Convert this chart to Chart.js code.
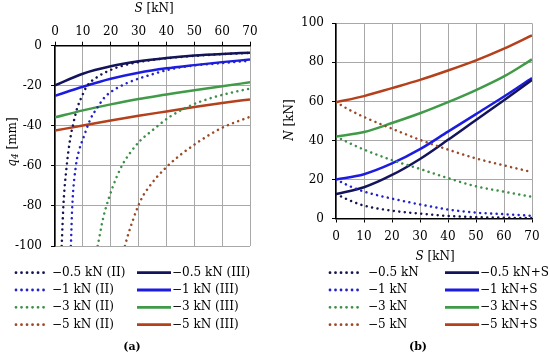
<!DOCTYPE html>
<html>
<head>
<meta charset="utf-8">
<script src="https://cdn.jsdelivr.net/npm/chart.js@4/dist/chart.umd.min.js"></script>
<style>
  html, body { margin: 0; padding: 0; background: #fff; }
  .wrap { display: flex; width: 550px; height: 354px; }
  .panel { position: relative; width: 275px; height: 354px; }
</style>
</head>
<body>
<div class="wrap">
  <div class="panel"><canvas id="grafica-a"></canvas></div>
  <div class="panel"><canvas id="grafica-b"></canvas></div>
</div>
<script>
// ---- panel (a): q4 [mm] vs S [kN] ----
const sIII = [0, 10, 20, 30, 40, 50, 60, 70];
const qIII_05 = [-19.8, -14, -10.3, -7.8, -6.1, -4.9, -4.1, -3.5];
const qIII_1 = [-25, -20.5, -16.5, -13.5, -11.3, -9.7, -8.2, -6.9];
const qIII_3 = [-35.8, -32.3, -29.3, -26.6, -24.4, -22.2, -20.2, -18.3];
const qIII_5 = [-42.4, -39.8, -37.3, -35, -32.8, -30.6, -28.6, -26.8];

const sII_05 = [2.4, 3, 4.2, 5.4, 6.6, 8, 9.6, 11.4, 15, 19.7, 23.3, 30, 40, 50, 60, 70];
const qII_05 = [-100, -80, -60, -47, -38.7, -31, -25.5, -20.3, -15.8, -12.3, -10.4, -8.2, -6.3, -5.1, -4.2, -3.6];
const sII_1 = [5.7, 6.2, 7.5, 8.7, 10.2, 12.6, 15, 18, 22.1, 27, 34.1, 41.3, 48.5, 60, 70];
const qII_1 = [-100, -80, -60, -52, -46, -37, -31.3, -25.5, -21.3, -18, -14.6, -11.8, -10.1, -8.7, -7.5];
const sII_3 = [15.3, 17.3, 19.5, 22, 24.5, 27.5, 30.5, 34.1, 41.3, 48.5, 55.6, 62.8, 70];
const qII_3 = [-100, -86, -75.4, -66, -58.7, -52.5, -47.5, -43.2, -35.4, -30, -26.3, -23.6, -21.4];
const sII_5 = [25.1, 26, 27, 28, 29, 30, 31, 32, 33.5, 36, 40.1, 44.9, 49.1, 52, 59.2, 64, 70];
const qII_5 = [-100, -95.5, -91, -87, -83, -79.5, -76.5, -74, -71, -66.5, -60.5, -54.6, -50.3, -47.5, -41.5, -38.6, -35.5];

const etiquetasA = ["\u22120.5 kN (II)", "\u22121 kN (II)", "\u22123 kN (II)", "\u22125 kN (II)",
                    "\u22120.5 kN (III)", "\u22121 kN (III)", "\u22123 kN (III)", "\u22125 kN (III)"];

// ---- panel (b): N [kN] vs S [kN] ----
const sB = [0, 10, 20, 30, 40, 50, 60, 70];
const nS_05 = [12.5, 16, 22.3, 30.5, 40.3, 50.5, 60.6, 71];
const nS_1 = [20, 22.7, 28.2, 35.5, 44.5, 53.5, 62.5, 72];
const nS_3 = [42, 44.3, 48.9, 53.9, 59.6, 65.8, 72.8, 81.5];
const nS_5 = [59.6, 62.7, 66.8, 71, 75.8, 81, 87, 93.8];

const sBd = [0, 5, 10, 20, 30, 40, 50, 60, 70];
const n_05 = [12.5, 9.2, 6.6, 4.0, 2.5, 1.3, 0.7, 0.4, 0.2];
const n_1 = [20, 16.5, 13.8, 10.2, 7.2, 4.6, 3.0, 2.2, 1.4];
const n_3 = [42, 38.5, 35.3, 29.9, 25.4, 20.7, 16.5, 13.7, 11.1];
const n_5 = [59.6, 55.5, 52, 46, 40.3, 35.3, 30.8, 27.2, 23.8];

const etiquetasB = ["\u22120.5 kN", "\u22121 kN", "\u22123 kN", "\u22125 kN",
                    "\u22120.5 kN+S", "\u22121 kN+S", "\u22123 kN+S", "\u22125 kN+S"];

const colores = ["#14145c", "#1c1ce0", "#409a48", "#b5401c"];
const coloresPunteado = ["#141450", "#2222cc", "#3d8f47", "#9a4a28"];

const FUENTE = '"DejaVu Serif", serif';

function puntos(xs, ys) {
    return xs.map((x, i) => ({ x: x, y: ys[i] }));
}

function punteada(label, color, data) {
    return {
        label: label, data: data, borderColor: color, backgroundColor: color,
        borderWidth: 2.5, borderDash: [0.01, 5.5], borderCapStyle: "round",
        pointRadius: 0, cubicInterpolationMode: "monotone", fill: false
    };
}

function continua(label, color, data) {
    return {
        label: label, data: data, borderColor: color, backgroundColor: color,
        borderWidth: 2.5, pointRadius: 0, cubicInterpolationMode: "monotone", fill: false
    };
}

function dibujarPartes(ctx, partes, x, y, angulo) {
    ctx.save();
    ctx.translate(x, y);
    ctx.rotate(angulo);
    ctx.textBaseline = "middle";
    ctx.textAlign = "left";
    let total = 0;
    partes.forEach((p) => {
        ctx.font = (p.i ? "italic " : "") + (p.sub ? "9px " : "12px ") + FUENTE;
        p.w = ctx.measureText(p.t).width;
        total += p.w;
    });
    let cx = -total / 2;
    partes.forEach((p) => {
        ctx.font = (p.i ? "italic " : "") + (p.sub ? "9px " : "12px ") + FUENTE;
        ctx.fillText(p.t, cx, p.sub ? 3 : 0);
        cx += p.w;
    });
    ctx.restore();
}

const extras = {
    id: "extras",
    afterDraw(chart, args, opts) {
        const ctx = chart.ctx;
        ctx.save();
        chart.data.datasets.forEach((ds, i) => {
            const col = opts.cols[i < 4 ? 0 : 1];
            const y = opts.rows[i % 4];
            ctx.beginPath();
            ctx.strokeStyle = ds.borderColor;
            ctx.lineWidth = ds.borderWidth + 0.3;
            ctx.setLineDash(ds.borderDash || []);
            ctx.lineCap = ds.borderCapStyle || "butt";
            ctx.moveTo(col[0], y);
            ctx.lineTo(col[1], y);
            ctx.stroke();
            ctx.setLineDash([]);
            ctx.fillStyle = "#000";
            ctx.font = "12px " + FUENTE;
            ctx.textBaseline = "middle";
            ctx.textAlign = "left";
            ctx.fillText(ds.label, col[2], y);
        });
        ctx.fillStyle = "#000";
        dibujarPartes(ctx, opts.xTitle, opts.xTitlePos[0], opts.xTitlePos[1], 0);
        dibujarPartes(ctx, opts.yTitle, opts.yTitlePos[0], opts.yTitlePos[1], -Math.PI / 2);
        ctx.font = "bold 11px " + FUENTE;
        ctx.textAlign = "center";
        ctx.textBaseline = "middle";
        ctx.fillText(opts.caption, opts.captionPos[0], opts.captionPos[1]);
        ctx.restore();
    }
};

function escala(pos, min, max, paso, tamano, extra) {
    const eje = {
        type: "linear", position: pos, min: min, max: max,
        ticks: { stepSize: paso, color: "#000", font: { family: FUENTE, size: 12 }, padding: extra.padding },
        grid: { color: "#a8a8a8", lineWidth: 1, tickLength: 4, tickColor: "#000", tickWidth: 1 },
        border: { color: "#000", width: 1.5 },
        afterFit(scale) {
            if (pos === "left") { scale.width = tamano; } else { scale.height = tamano; }
        }
    };
    return eje;
}

new Chart(document.getElementById("grafica-a"), {
    type: "line",
    data: {
        datasets: [
            punteada(etiquetasA[0], coloresPunteado[0], puntos(sII_05, qII_05)),
            punteada(etiquetasA[1], coloresPunteado[1], puntos(sII_1, qII_1)),
            punteada(etiquetasA[2], coloresPunteado[2], puntos(sII_3, qII_3)),
            punteada(etiquetasA[3], coloresPunteado[3], puntos(sII_5, qII_5)),
            continua(etiquetasA[4], colores[0], puntos(sIII, qIII_05)),
            continua(etiquetasA[5], colores[1], puntos(sIII, qIII_1)),
            continua(etiquetasA[6], colores[2], puntos(sIII, qIII_3)),
            continua(etiquetasA[7], colores[3], puntos(sIII, qIII_5))
        ]
    },
    options: {
        animation: false,
        responsive: true,
        maintainAspectRatio: false,
        layout: { padding: { left: 0, top: 0, right: 25, bottom: 108 } },
        scales: {
            x: escala("top", 0, 70, 10, 45.7, { padding: 3 }),
            y: escala("left", -100, 0, 20, 55, { padding: 9 })
        },
        plugins: {
            legend: { display: false },
            tooltip: { enabled: false },
            extras: {
                rows: [272.7, 290, 307.3, 324.7],
                cols: [[16, 47, 52], [137, 171, 172]],
                xTitle: [{ t: "S", i: true }, { t: " [kN]" }],
                xTitlePos: [154, 9],
                yTitle: [{ t: "q", i: true }, { t: "4", i: true, sub: true }, { t: " [mm]" }],
                yTitlePos: [13, 142],
                caption: "(a)",
                captionPos: [132, 347]
            }
        }
    },
    plugins: [extras]
});

new Chart(document.getElementById("grafica-b"), {
    type: "line",
    data: {
        datasets: [
            punteada(etiquetasB[0], coloresPunteado[0], puntos(sBd, n_05)),
            punteada(etiquetasB[1], coloresPunteado[1], puntos(sBd, n_1)),
            punteada(etiquetasB[2], coloresPunteado[2], puntos(sBd, n_3)),
            punteada(etiquetasB[3], coloresPunteado[3], puntos(sBd, n_5)),
            continua(etiquetasB[4], colores[0], puntos(sB, nS_05)),
            continua(etiquetasB[5], colores[1], puntos(sB, nS_1)),
            continua(etiquetasB[6], colores[2], puntos(sB, nS_3)),
            continua(etiquetasB[7], colores[3], puntos(sB, nS_5))
        ]
    },
    options: {
        animation: false,
        responsive: true,
        maintainAspectRatio: false,
        layout: { padding: { left: 0, top: 23.3, right: 18, bottom: 105.5 } },
        scales: {
            x: escala("bottom", 0, 70, 10, 30, { padding: 7 }),
            y: escala("left", 0, 100, 20, 61, { padding: 8 })
        },
        plugins: {
            legend: { display: false },
            tooltip: { enabled: false },
            extras: {
                rows: [272.7, 290, 307.3, 324.7],
                cols: [[55, 88, 93], [170, 204, 205]],
                xTitle: [{ t: "S", i: true }, { t: " [kN]" }],
                xTitlePos: [160, 257],
                yTitle: [{ t: "N", i: true }, { t: " [kN]" }],
                yTitlePos: [15, 120],
                caption: "(b)",
                captionPos: [143, 347]
            }
        }
    },
    plugins: [extras]
});
</script>
</body>
</html>
